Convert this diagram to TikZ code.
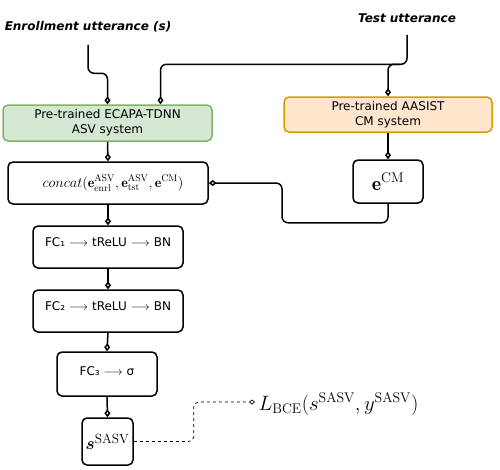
\documentclass[tikz,border=0pt]{standalone}
\usepackage{amsmath,amssymb}
\usepackage{fontspec}
\setsansfont{DejaVu Sans}
\usetikzlibrary{arrows.meta,positioning}
\definecolor{asvfill}{HTML}{D5E8D4}
\definecolor{asvline}{HTML}{82B366}
\definecolor{cmfill}{HTML}{FFE6CC}
\definecolor{cmline}{HTML}{D79B00}

\begin{document}
\begin{tikzpicture}[x=1pt, y=-1pt, font=\sffamily\fontsize{12}{15}\selectfont]

\tikzset{
    titolo/.style={font=\sffamily\bfseries\itshape\fontsize{12}{15}\selectfont},
    blocco/.style={draw, line width=1.5pt, rounded corners=5pt, inner sep=2pt, align=center},
    fcbox/.style={blocco, minimum width=150pt, minimum height=42pt, text depth=9pt},
    conn/.style={line width=1.5pt, rounded corners=6pt, -{Diamond[open, length=8pt, width=6pt]}},
    conndash/.style={line width=0.7pt, dashed, rounded corners=5pt, -{Diamond[open, length=6pt, width=5pt]}}
}
\useasboundingbox (0,0) rectangle (500,469);

% Ingressi
\node[titolo] (enr) at (88,27) {Enrollment utterance (s)};
\node[titolo] (tst) at (407,18) {Test utterance};

% Sistemi pre-addestrati
\node[blocco, fill=asvfill, draw=asvline, minimum width=209pt, minimum height=36pt] (asv) at (107.5,123)
    {Pre-trained ECAPA-TDNN\\ASV system};
\node[blocco, fill=cmfill, draw=cmline, minimum width=208pt, minimum height=35pt] (cm) at (388,114.5)
    {Pre-trained AASIST\\CM system};

% Embedding
\node[blocco, minimum width=200pt, minimum height=42pt, font=\fontsize{14}{16}\selectfont] (cat) at (108,183)
    {\hspace{10pt}$concat(\mathbf{e}^{\mathrm{ASV}}_{\mathrm{enrl}},\mathbf{e}^{\mathrm{ASV}}_{\mathrm{tst}},\mathbf{e}^{\mathrm{CM}})$};
\node[blocco, minimum width=70pt, minimum height=43pt, font=\fontsize{20}{24}\selectfont] (ecm) at (388,181.5)
    {$\mathbf{e}^{\mathrm{CM}}$};

% Rete
\node[fcbox] (fc1) at (108,247) {FC₁ $\longrightarrow$ tReLU $\longrightarrow$ BN};
\node[fcbox] (fc2) at (108,311) {FC₂ $\longrightarrow$ tReLU $\longrightarrow$ BN};
\node[blocco, minimum width=100pt, minimum height=44pt, text depth=6pt] (fc3) at (107,374) {FC₃ $\longrightarrow$ σ};
\node[blocco, minimum width=51pt, minimum height=47pt, inner sep=1pt, font=\fontsize{19}{22}\selectfont] (score) at (107.5,441.5)
    {$\boldsymbol{s}^{\mathrm{SASV}}$};
\node[anchor=west, font=\fontsize{20}{24}\selectfont] (loss) at (255,404)
    {$L_{\mathrm{BCE}}(s^{\mathrm{SASV}},y^{\mathrm{SASV}})$};

% Collegamenti
\coordinate (split) at ([yshift=32pt]cm.north -| tst.south);
\draw[conn] ([yshift=-9pt]enr.south) |- ([yshift=31pt]asv.north) -- (asv.north);
\draw[conn] ([yshift=-9pt]tst.south) -- (split) -| ([xshift=53pt]asv.north);
\draw[conn] ([xshift=-7pt]split) -| (cm.north);
\draw[conn] (asv.south) -- (cat.north);
\draw[conn] (cm.south) -- (ecm.north);
\draw[conn] (ecm.south) -- ++(0,19) -- ++(-106,0) |- (cat.east);
\draw[conn] (cat.south) -- (fc1.north);
\draw[conn] (fc1.south) -- (fc2.north);
\draw[conn] (fc2.south) -- (fc3.north);
\draw[conn] (fc3.south) -- (score.north);
\draw[conndash] (score.east) -- ++(60,0) |- ([yshift=2pt]loss.west);

\end{tikzpicture}
\end{document}
